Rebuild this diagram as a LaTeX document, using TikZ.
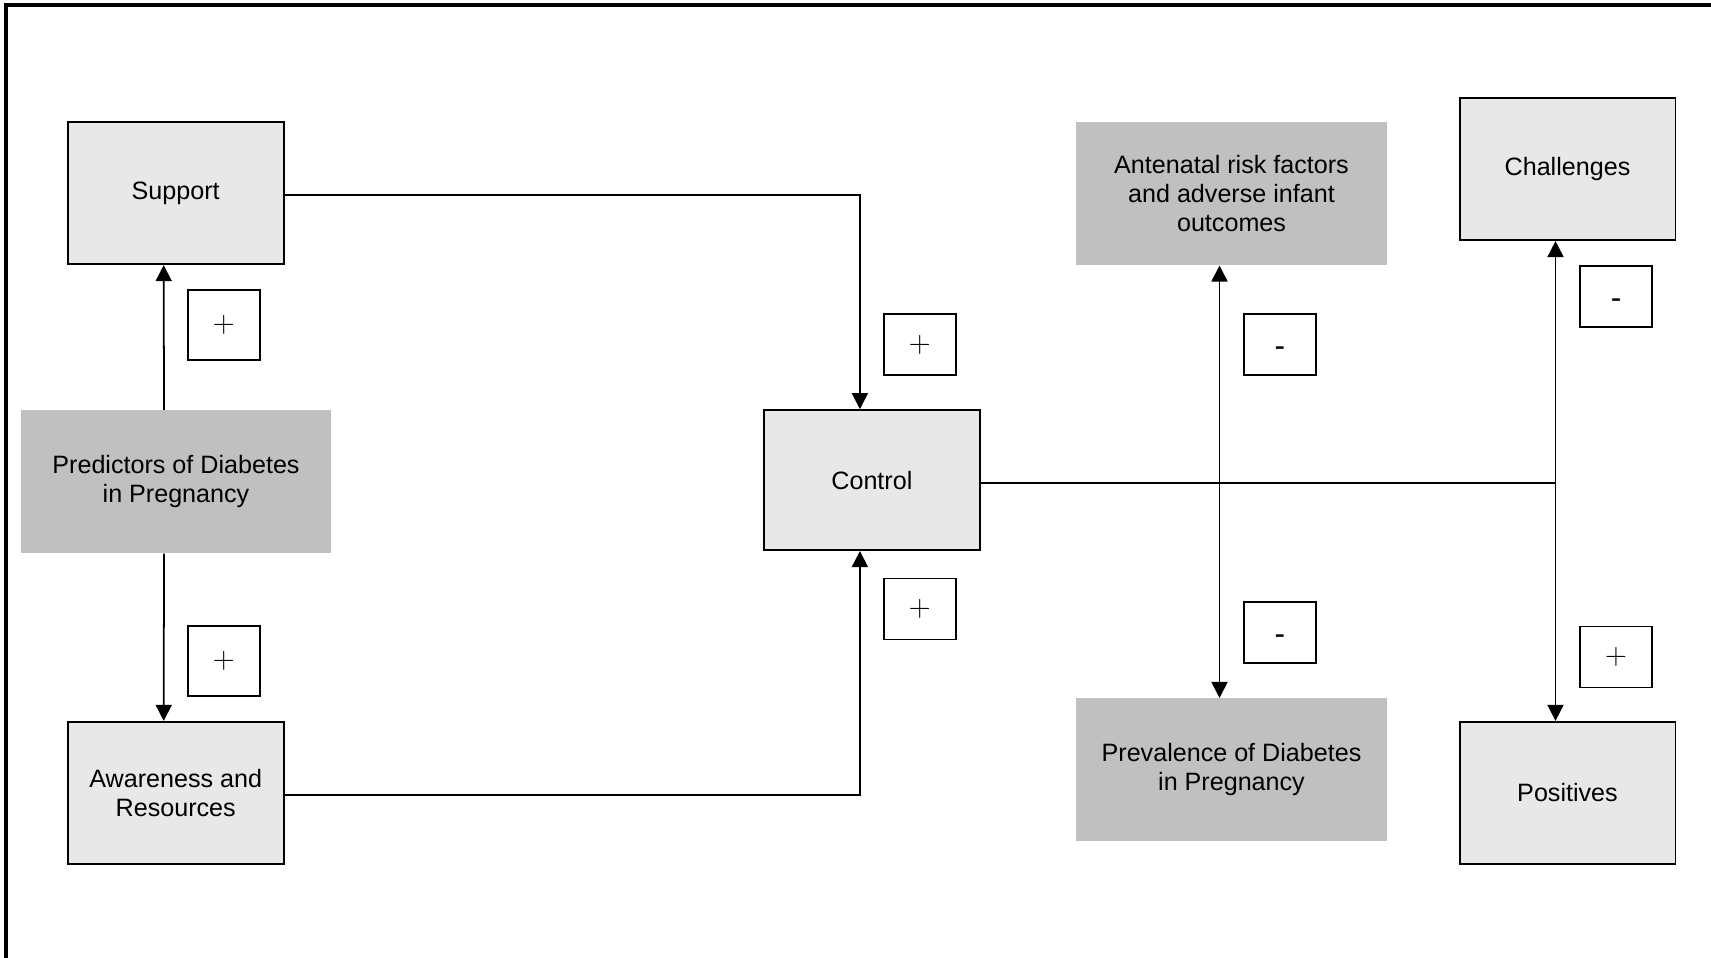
\documentclass[tikz,border=0pt]{standalone}
\usepackage{fontspec}
\setmainfont{Liberation Sans}
\usepackage{tikz}
\usetikzlibrary{positioning,arrows.meta}
\definecolor{BoxLight}{HTML}{E8E8E8}
\definecolor{BoxDark}{HTML}{C0C0C0}

\begin{document}
\begin{tikzpicture}[
  x=0.02cm,y=-0.02cm,
  every node/.style={font=\fontsize{14.3}{16.6}\selectfont,align=center},
  theme/.style={draw=black,line width=1.1pt,fill=BoxLight,minimum width=4.32cm,minimum height=2.84cm,inner sep=0pt},
  source/.style={fill=BoxDark,minimum width=6.22cm,minimum height=2.86cm,inner sep=0pt},
  sign/.style={draw=black,line width=1pt,fill=white,minimum width=1.44cm,minimum height=1.22cm,inner sep=0pt,font=\fontsize{16}{18}\selectfont},
  minus/.style={sign,font=\fontsize{18}{20}\selectfont,text height=0.62em,text depth=0pt},
  arr/.style={-{Triangle[length=0.32cm,width=0.32cm]},line width=1pt},
  biarr/.style={{Triangle[length=0.32cm,width=0.32cm]}-{Triangle[length=0.32cm,width=0.32cm]},line width=1pt},
  link/.style={line width=1pt}
]
  \useasboundingbox (0,0) rectangle (1711,957);
  \draw[line width=2pt] (6,5) rectangle (1740,990);

  % themes and sources
  \node[theme] (sup) at (175.7,193.2) {Support};
  \node[source] (pred) at (176,481.7) {Predictors of Diabetes\\in Pregnancy};
  \node[theme] (aware) at (175.7,792.8) {Awareness and\\Resources};
  \node[theme,minimum height=2.8cm] (ctrl) at (871.9,480.1) {Control};
  \node[source] (ante) at (1231.5,193.7) {Antenatal risk factors\\and adverse infant\\outcomes};
  \node[source] (prev) at (1231.5,769.8) {Prevalence of Diabetes\\in Pregnancy};
  \node[theme] (chal) at (1567.5,169.1) {Challenges};
  \node[theme] (pos) at (1567.5,792.8) {Positives};

  % signs
  \node[sign,minimum height=1.4cm] (s1) at (223.7,325) {$+$};
  \node[sign,minimum height=1.4cm] (s2) at (223.7,661) {$+$};
  \node[sign] (s3) at (919.9,344.8) {$+$};
  \node[sign] (s4) at (919.9,608.9) {$+$};
  \node[minus] (s5) at (1280,344.8) {\raisebox{-0.2em}{-}};
  \node[minus] (s6) at (1280,632.4) {\raisebox{-0.2em}{-}};
  \node[minus] (s7) at (1616,296.8) {\raisebox{-0.2em}{-}};
  \node[sign] (s8) at (1616,657) {$+$};

  \coordinate (chalx) at ([xshift=-0.24cm]chal.south);
  \coordinate (tee) at (chalx |- ctrl.east);

  \draw[arr] ([xshift=-0.24cm]pred.north) -- ([xshift=-0.24cm]sup.south);
  \draw[arr] ([xshift=-0.24cm]pred.south) -- ([xshift=-0.24cm]aware.north);
  \draw[arr] ([yshift=-0.04cm]sup.east) -| ([xshift=-0.24cm]ctrl.north);
  \draw[arr] ([yshift=-0.04cm]aware.east) -| ([xshift=-0.24cm]ctrl.south);
  \draw[link] ([yshift=-0.06cm]ctrl.east) -- ([yshift=-0.06cm]tee);
  \draw[biarr] ([xshift=-0.24cm]ante.south) -- ([xshift=-0.24cm]prev.north);
  \draw[biarr] (chalx) -- ([xshift=-0.24cm]pos.north);
\end{tikzpicture}
\end{document}
